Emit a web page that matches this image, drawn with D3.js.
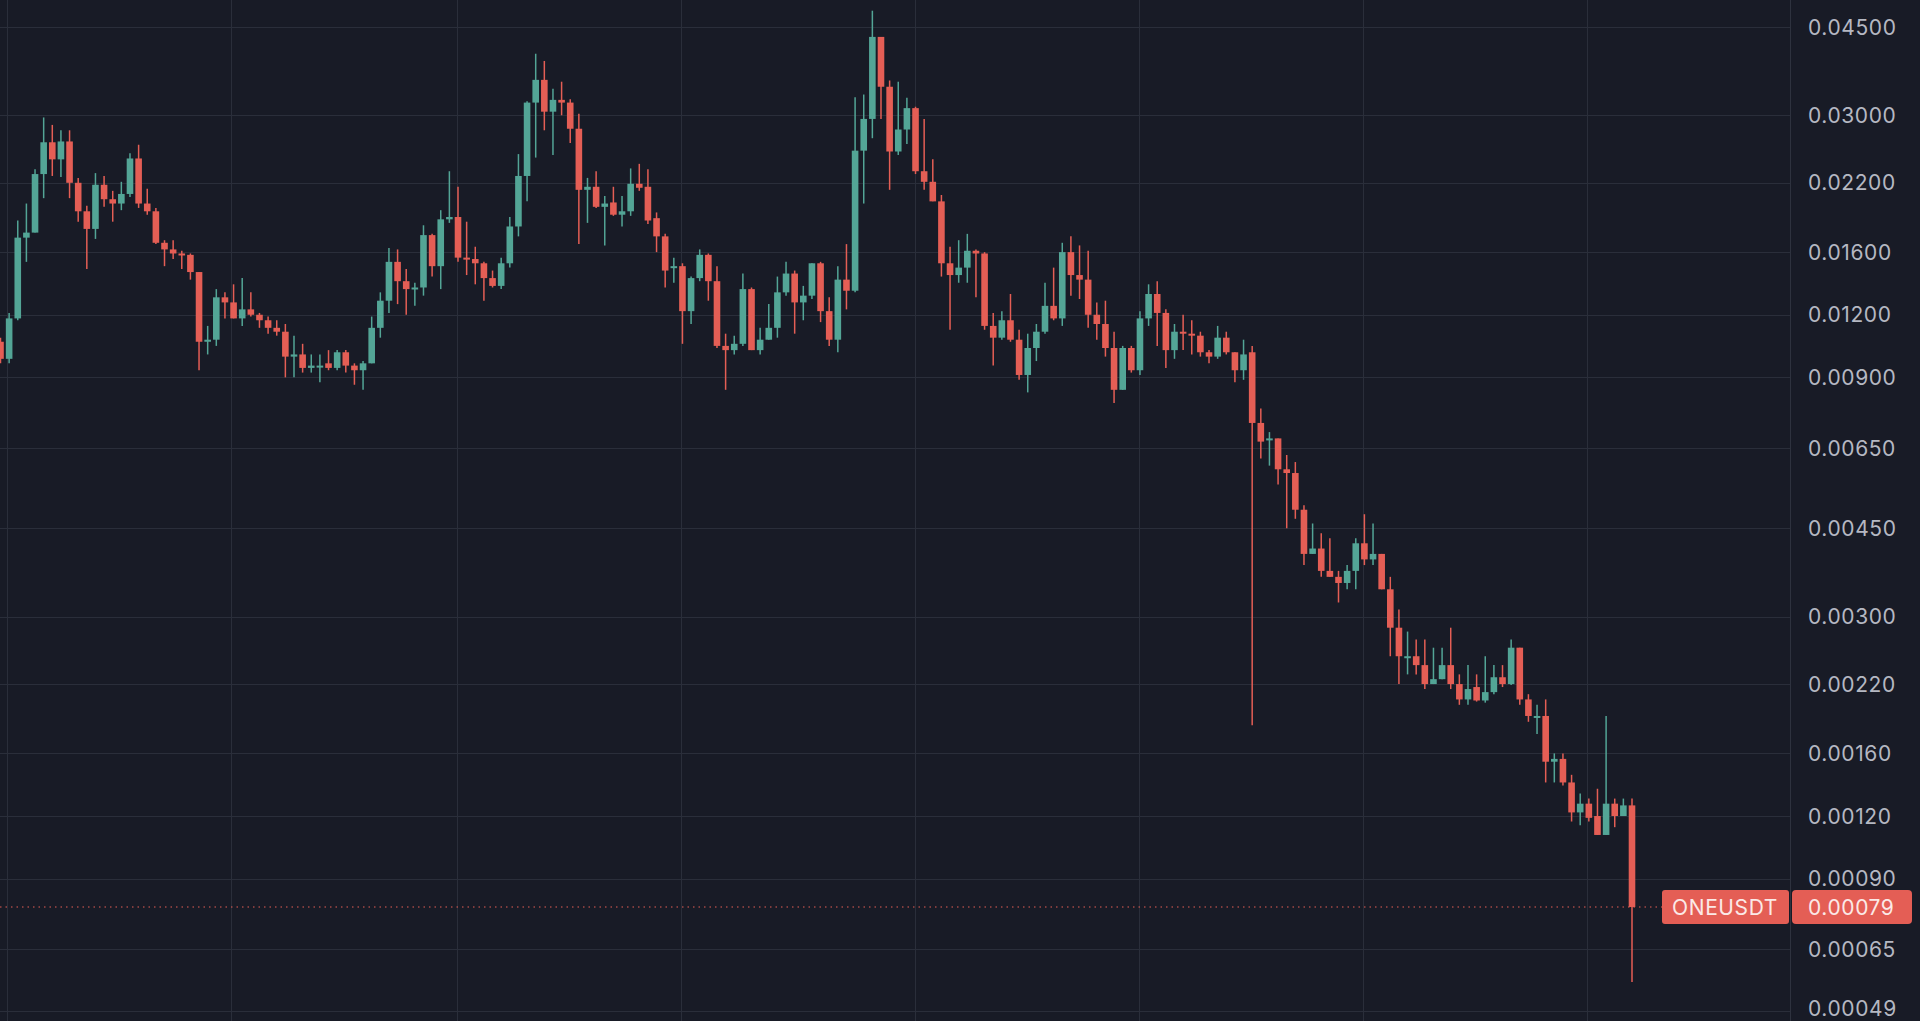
<!DOCTYPE html>
<html><head><meta charset="utf-8">
<script src="https://cdn.jsdelivr.net/npm/d3@7"></script>
<style>html,body{margin:0;padding:0;background:#181b26;overflow:hidden}</style>
</head><body><svg id="c" width="1920" height="1021"></svg>
<script>
const open_=[0.0106,0.0098,0.0118,0.0171,0.0175,0.0229,0.0265,0.0245,0.0266,0.022,0.0193,0.0178,0.0218,0.0204,0.02,0.0209,0.0246,0.02,0.0193,0.0167,0.0162,0.0159,0.0158,0.0146,0.0106,0.0107,0.013,0.0127,0.0118,0.0123,0.012,0.0117,0.0113,0.0111,0.0099,0.01,0.0094,0.0095,0.0096,0.0094,0.0101,0.0095,0.0093,0.0096,0.0113,0.0128,0.0153,0.014,0.0135,0.0136,0.0173,0.015,0.0186,0.0188,0.0156,0.0155,0.0152,0.0142,0.0137,0.0152,0.018,0.0227,0.0318,0.0353,0.0305,0.0322,0.0318,0.0282,0.0213,0.0216,0.0197,0.0201,0.019,0.0193,0.0219,0.0216,0.0187,0.0172,0.0149,0.015,0.0122,0.0142,0.0158,0.014,0.0104,0.0102,0.0105,0.0135,0.0102,0.0107,0.0113,0.0133,0.0145,0.0127,0.0131,0.0152,0.0122,0.0107,0.0141,0.0134,0.0255,0.0295,0.043,0.0342,0.0254,0.0281,0.031,0.0232,0.0221,0.0202,0.0152,0.0144,0.0149,0.0161,0.0159,0.0114,0.0108,0.0117,0.0107,0.0091,0.0103,0.0111,0.0125,0.0118,0.016,0.0144,0.0141,0.012,0.0115,0.0103,0.0085,0.0103,0.0093,0.0118,0.0132,0.0121,0.0102,0.0111,0.011,0.0109,0.0101,0.0099,0.0108,0.0101,0.0093,0.0101,0.0073,0.0068,0.0068,0.0059,0.0058,0.0049,0.004,0.0041,0.0037,0.0036,0.0035,0.0037,0.0042,0.0039,0.004,0.0034,0.00285,0.0025,0.0025,0.0024,0.0022,0.00225,0.0024,0.0022,0.00205,0.00217,0.00204,0.00212,0.00227,0.0022,0.0026,0.00205,0.0019,0.0019,0.00154,0.00156,0.0014,0.00122,0.00127,0.0012,0.0011,0.00127,0.0012,0.00126];
const high_=[0.0108,0.0121,0.0185,0.02,0.0234,0.0297,0.0287,0.028,0.028,0.0225,0.0198,0.023,0.0227,0.0212,0.0221,0.0252,0.0262,0.0214,0.0196,0.0169,0.0169,0.0161,0.0159,0.0146,0.0114,0.0135,0.0133,0.0138,0.0142,0.0133,0.0121,0.0119,0.0117,0.0115,0.0109,0.0105,0.01,0.01,0.0102,0.0102,0.0102,0.0096,0.0097,0.0119,0.0133,0.0163,0.0162,0.0148,0.0139,0.0181,0.0174,0.0194,0.0232,0.0216,0.0184,0.0164,0.0153,0.0147,0.0156,0.0188,0.0251,0.032,0.0398,0.0385,0.0339,0.035,0.0323,0.0302,0.0225,0.0232,0.0207,0.0216,0.0207,0.0235,0.024,0.0234,0.0192,0.0174,0.0156,0.0152,0.0143,0.0162,0.0159,0.015,0.011,0.0109,0.0145,0.0136,0.0113,0.0126,0.0143,0.0153,0.0147,0.0137,0.0152,0.0153,0.013,0.015,0.0166,0.0326,0.033,0.0485,0.043,0.0352,0.035,0.0325,0.0312,0.0295,0.0245,0.0208,0.0164,0.0169,0.0174,0.0162,0.016,0.0121,0.0122,0.0132,0.0112,0.011,0.0115,0.0139,0.0149,0.0167,0.0172,0.0165,0.0161,0.0127,0.0128,0.0111,0.0104,0.0104,0.0122,0.0138,0.014,0.0123,0.0115,0.012,0.0117,0.0111,0.0102,0.0114,0.0111,0.0101,0.0107,0.0104,0.0078,0.007,0.0068,0.0063,0.0061,0.005,0.0046,0.0044,0.0043,0.0037,0.0038,0.0043,0.0048,0.0046,0.004,0.0036,0.0031,0.0028,0.0027,0.0027,0.0026,0.0026,0.00285,0.0023,0.0024,0.0023,0.0025,0.0024,0.0024,0.0027,0.0026,0.0021,0.002,0.00205,0.0016,0.0016,0.00145,0.00133,0.0013,0.00136,0.0019,0.0013,0.0013,0.0013];
const low_=[0.0096,0.0096,0.0117,0.0153,0.0175,0.0205,0.0227,0.0226,0.0205,0.0184,0.0148,0.017,0.0197,0.0184,0.0194,0.0206,0.0196,0.019,0.0166,0.015,0.0155,0.0148,0.0141,0.0093,0.01,0.0104,0.0118,0.0118,0.0114,0.0119,0.0113,0.011,0.0109,0.009,0.009,0.0092,0.0092,0.0088,0.0093,0.0093,0.0092,0.0087,0.0085,0.0096,0.0108,0.0121,0.0126,0.012,0.0125,0.0131,0.0143,0.0135,0.0183,0.0153,0.0144,0.0138,0.0128,0.0136,0.0135,0.0149,0.0172,0.0202,0.0247,0.028,0.025,0.03,0.0264,0.0166,0.0183,0.0196,0.0165,0.0189,0.018,0.0189,0.0212,0.0182,0.016,0.0136,0.0139,0.0105,0.0115,0.014,0.0128,0.0103,0.0085,0.01,0.0104,0.0102,0.01,0.0107,0.0108,0.0131,0.011,0.0117,0.0129,0.0116,0.0104,0.0101,0.0123,0.0133,0.02,0.027,0.0295,0.0213,0.025,0.0263,0.0229,0.0213,0.0202,0.0143,0.0112,0.0139,0.0139,0.013,0.0112,0.0095,0.0107,0.0106,0.0089,0.0084,0.0097,0.011,0.0117,0.0114,0.0131,0.0129,0.0113,0.0107,0.0099,0.008,0.0085,0.0092,0.0091,0.0114,0.0104,0.0094,0.0098,0.0102,0.01,0.0099,0.0096,0.0098,0.01,0.0088,0.0089,0.00182,0.0062,0.006,0.0055,0.0045,0.0047,0.0038,0.004,0.0036,0.0036,0.0032,0.0034,0.0034,0.0038,0.0038,0.0034,0.0025,0.0022,0.0023,0.0023,0.00215,0.0022,0.00225,0.00215,0.002,0.002,0.00203,0.00202,0.0021,0.00217,0.00219,0.002,0.00185,0.00175,0.0014,0.0014,0.00138,0.00117,0.00115,0.00117,0.0011,0.0011,0.00114,0.0012,0.00056];
const close_=[0.0098,0.0118,0.0171,0.0175,0.0229,0.0265,0.0245,0.0266,0.022,0.0193,0.0178,0.0218,0.0204,0.02,0.0209,0.0246,0.02,0.0193,0.0167,0.0162,0.0159,0.0158,0.0146,0.0106,0.0107,0.013,0.0127,0.0118,0.0123,0.012,0.0117,0.0113,0.0111,0.0099,0.01,0.0094,0.0095,0.0095,0.0094,0.0101,0.0095,0.0093,0.0096,0.0113,0.0128,0.0153,0.014,0.0135,0.0136,0.0173,0.015,0.0186,0.0188,0.0156,0.0155,0.0152,0.0142,0.0137,0.0152,0.018,0.0227,0.0318,0.0353,0.0305,0.0322,0.0318,0.0282,0.0213,0.0216,0.0197,0.02,0.019,0.0193,0.0219,0.0215,0.0185,0.0172,0.0147,0.015,0.0122,0.0142,0.0158,0.014,0.0104,0.0102,0.0105,0.0135,0.0102,0.0107,0.0113,0.0133,0.0145,0.0127,0.0131,0.0152,0.0122,0.0107,0.0141,0.0134,0.0255,0.0295,0.043,0.0342,0.0254,0.0281,0.031,0.0232,0.0221,0.0202,0.0152,0.0144,0.0149,0.0161,0.0159,0.0114,0.0108,0.0117,0.0107,0.0091,0.0103,0.0111,0.0125,0.0118,0.016,0.0144,0.0141,0.012,0.0115,0.0103,0.0085,0.0103,0.0093,0.0118,0.0132,0.0121,0.0102,0.0111,0.011,0.0109,0.0101,0.0099,0.0108,0.0101,0.0093,0.01,0.0073,0.0067,0.0068,0.0059,0.0058,0.0049,0.004,0.0041,0.0037,0.0036,0.0035,0.0037,0.0042,0.0039,0.004,0.0034,0.00285,0.0025,0.0025,0.0024,0.0022,0.00225,0.0024,0.0022,0.00205,0.00215,0.00204,0.00212,0.00227,0.0022,0.0026,0.00205,0.0019,0.0019,0.00154,0.00156,0.0014,0.00122,0.00127,0.00119,0.0011,0.00127,0.0012,0.00126,0.00079];
const tickValues=[0.045,0.03,0.022,0.016,0.012,0.009,0.0065,0.0045,0.003,0.0022,0.0016,0.0012,0.0009,0.00065,0.00049];
const tickLabels=["0.04500","0.03000","0.02200","0.01600","0.01200","0.00900","0.00650","0.00450","0.00300","0.00220","0.00160","0.00120","0.00090","0.00065","0.00049"];
const gridIdx=[0.8,26.7,52.9,78.8,105.9,131.9,157.8,183.8];
const symbol="ONEUSDT", lastLabel="0.00079";

const UP="#53a596", DN="#e45e55";
const FONT="Inter, 'Noto Sans', sans-serif";
const svg=d3.select("#c");
svg.append("rect").attr("width",1920).attr("height",1021).attr("fill","#181b26");
const n=open_.length;
const x=d3.scaleLinear().domain([0,n-1]).range([0.5,1632]);
const y=d3.scaleLog().domain([0.045,0.00049]).range([27,1011]);
const g=svg.append("g");
g.selectAll(".hg").data(tickValues).join("line").attr("x1",0).attr("x2",1790)
 .attr("y1",d=>Math.round(y(d))+0.5).attr("y2",d=>Math.round(y(d))+0.5).attr("stroke","#2a2e3a").attr("stroke-width",1);
g.selectAll(".vg").data(gridIdx).join("line").attr("y1",0).attr("y2",1021)
 .attr("x1",d=>Math.round(x(d))+0.5).attr("x2",d=>Math.round(x(d))+0.5).attr("stroke","#2a2e3a");
svg.append("line").attr("x1",1790.5).attr("x2",1790.5).attr("y1",0).attr("y2",1021).attr("stroke","#2e323e");
svg.append("line").attr("x1",0).attr("x2",1662).attr("y1",y(0.00079)).attr("y2",y(0.00079))
 .attr("stroke",DN).attr("stroke-width",1.2).attr("stroke-dasharray","1.5 4");
const idx=d3.range(n);
const col=i=>close_[i]>=open_[i]?UP:DN;
g.selectAll(".w").data(idx).join("line").attr("x1",i=>x(i)).attr("x2",i=>x(i))
 .attr("y1",i=>y(high_[i])).attr("y2",i=>y(low_[i])).attr("stroke",col).attr("stroke-width",1.5);
g.selectAll(".b").data(idx).join("rect").attr("x",i=>x(i)-3.3).attr("width",6.6)
 .attr("y",i=>y(Math.max(open_[i],close_[i])))
 .attr("height",i=>Math.max(2,Math.abs(y(open_[i])-y(close_[i])))).attr("fill",col);
const ax=svg.append("g").attr("font-family",FONT).attr("font-size",21).attr("letter-spacing","0.6px");
tickValues.forEach((v,k)=>{
  ax.append("text").attr("x",1808).attr("y",Math.min(y(v),1008)).attr("dy","0.36em").attr("fill","#b5b8c2").text(tickLabels[k]);
});
const ly=y(0.00079);
svg.append("rect").attr("x",1662).attr("y",ly-17).attr("width",127).attr("height",34).attr("rx",3).attr("fill",DN);
svg.append("rect").attr("x",1792).attr("y",ly-17).attr("width",120).attr("height",34).attr("rx",4).attr("fill",DN);
svg.append("text").attr("x",1725).attr("y",ly).attr("dy","0.36em").attr("text-anchor","middle").attr("letter-spacing","0.6px")
 .attr("font-family",FONT).attr("font-size",21).attr("fill","#fbe9e7").text(symbol);
svg.append("text").attr("x",1808).attr("y",ly).attr("dy","0.36em").attr("letter-spacing","0.6px")
 .attr("font-family",FONT).attr("font-size",21).attr("fill","#fbe9e7").text(lastLabel);
</script></body></html>
